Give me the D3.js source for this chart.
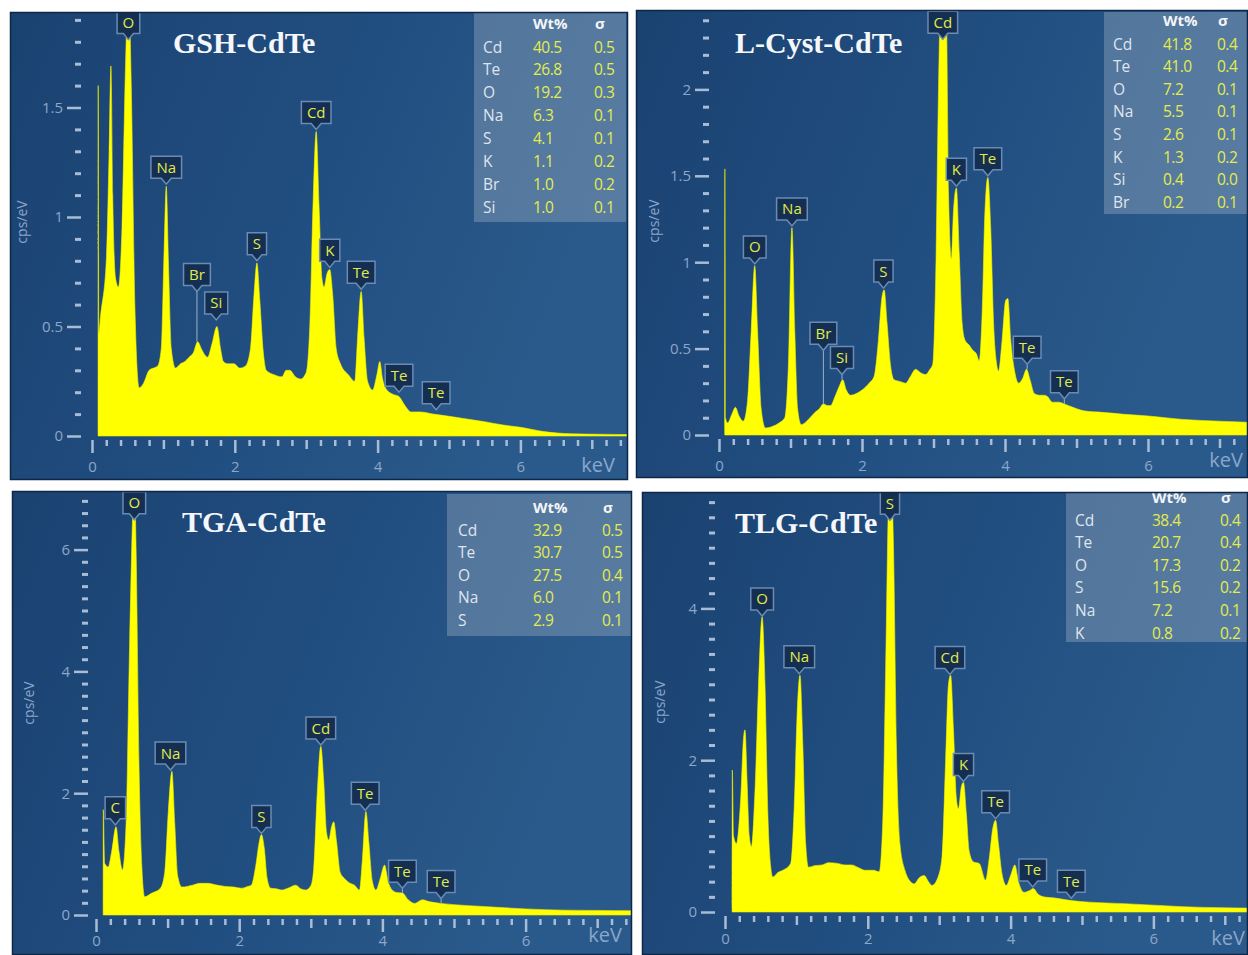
<!DOCTYPE html>
<html><head><meta charset="utf-8">
<script src="https://cdn.jsdelivr.net/npm/d3@7"></script>
<style>body{margin:0;background:#fff;} svg{display:block}</style>
</head><body>
<svg id="c" width="1248" height="955"></svg>
<script>
// ---------------- DATA ----------------
// spectra: [keV, cps/eV]
const gshSpectrum = [[0.085,0],[0.087,1.60],[0.095,0.47],[0.12,0.55],[0.20,0.80],[0.24,1.30],[0.265,1.69],[0.29,1.10],[0.33,0.72],[0.37,0.68],[0.42,0.95],[0.47,1.70],[0.51,2.05],[0.55,1.60],[0.60,0.60],[0.66,0.22],[0.72,0.24],[0.80,0.30],[0.86,0.31],[0.92,0.32],[0.97,0.40],[1.01,0.85],[1.04,1.14],[1.07,0.80],[1.11,0.40],[1.17,0.31],[1.24,0.33],[1.30,0.34],[1.36,0.36],[1.42,0.38],[1.48,0.43],[1.53,0.40],[1.58,0.37],[1.62,0.36],[1.68,0.42],[1.75,0.50],[1.80,0.40],[1.84,0.34],[1.90,0.33],[1.99,0.33],[2.07,0.31],[2.15,0.32],[2.22,0.40],[2.27,0.65],[2.31,0.79],[2.35,0.62],[2.40,0.38],[2.44,0.30],[2.55,0.28],[2.66,0.27],[2.72,0.30],[2.77,0.30],[2.85,0.27],[2.92,0.26],[3.00,0.29],[3.05,0.50],[3.10,1.10],[3.14,1.39],[3.18,1.05],[3.22,0.72],[3.25,0.68],[3.29,0.74],[3.33,0.76],[3.37,0.65],[3.42,0.40],[3.48,0.33],[3.59,0.28],[3.68,0.25],[3.72,0.45],[3.77,0.66],[3.81,0.45],[3.86,0.25],[3.93,0.21],[3.99,0.28],[4.03,0.34],[4.07,0.26],[4.13,0.21],[4.22,0.19],[4.30,0.18],[4.38,0.14],[4.47,0.11],[4.60,0.11],[4.78,0.10],[5.0,0.09],[5.2,0.08],[5.5,0.065],[5.76,0.05],[6.0,0.04],[6.33,0.02],[6.72,0.01],[7.1,0.008],[7.6,0.006]];
const lcystSpectrum = [[0.08,0],[0.082,1.54],[0.09,0.10],[0.12,0.07],[0.18,0.12],[0.23,0.16],[0.28,0.11],[0.34,0.08],[0.40,0.20],[0.45,0.60],[0.50,0.98],[0.54,0.60],[0.59,0.15],[0.65,0.04],[0.75,0.05],[0.84,0.07],[0.92,0.10],[0.97,0.40],[1.02,1.20],[1.06,0.60],[1.10,0.15],[1.15,0.06],[1.25,0.09],[1.34,0.13],[1.40,0.15],[1.46,0.18],[1.52,0.17],[1.56,0.17],[1.62,0.22],[1.68,0.28],[1.73,0.32],[1.78,0.26],[1.84,0.23],[1.92,0.24],[2.0,0.26],[2.10,0.30],[2.17,0.34],[2.23,0.55],[2.28,0.80],[2.31,0.84],[2.35,0.65],[2.40,0.40],[2.45,0.32],[2.53,0.31],[2.61,0.30],[2.68,0.34],[2.75,0.38],[2.82,0.36],[2.89,0.35],[2.95,0.38],[2.99,0.41],[3.03,0.90],[3.07,2.00],[3.10,2.55],[3.14,2.65],[3.18,2.45],[3.21,1.40],[3.25,1.02],[3.28,1.30],[3.32,1.43],[3.36,1.05],[3.40,0.65],[3.44,0.55],[3.50,0.52],[3.55,0.49],[3.60,0.47],[3.64,0.43],[3.68,0.70],[3.72,1.30],[3.76,1.49],[3.80,1.20],[3.84,0.65],[3.88,0.42],[3.91,0.37],[3.96,0.55],[4.01,0.78],[4.04,0.79],[4.08,0.55],[4.13,0.38],[4.19,0.30],[4.25,0.33],[4.30,0.38],[4.35,0.32],[4.41,0.24],[4.48,0.23],[4.55,0.23],[4.60,0.22],[4.66,0.19],[4.75,0.19],[4.83,0.18],[4.95,0.16],[5.10,0.14],[5.4,0.13],[5.66,0.12],[6.0,0.11],[6.49,0.09],[7.0,0.08],[7.6,0.07]];
const tgaSpectrum = [[0.10,0],[0.102,1.73],[0.12,0.85],[0.17,0.79],[0.22,1.05],[0.28,1.45],[0.32,1.05],[0.37,0.74],[0.42,1.5],[0.47,4.5],[0.51,6.5],[0.535,7.2],[0.56,6.0],[0.60,2.5],[0.64,0.8],[0.68,0.30],[0.78,0.36],[0.90,0.44],[0.96,0.70],[1.01,1.70],[1.06,2.36],[1.10,1.50],[1.14,0.65],[1.20,0.46],[1.35,0.49],[1.45,0.52],[1.57,0.52],[1.65,0.50],[1.80,0.47],[1.92,0.46],[2.03,0.44],[2.12,0.47],[2.17,0.49],[2.23,0.80],[2.28,1.20],[2.31,1.32],[2.35,1.10],[2.39,0.60],[2.44,0.44],[2.52,0.43],[2.59,0.41],[2.68,0.44],[2.79,0.49],[2.86,0.43],[2.93,0.41],[3.00,0.48],[3.04,0.75],[3.09,2.0],[3.14,2.77],[3.18,2.2],[3.22,1.35],[3.25,1.23],[3.29,1.45],[3.32,1.53],[3.36,1.20],[3.41,0.70],[3.47,0.60],[3.55,0.52],[3.61,0.49],[3.68,0.41],[3.72,0.90],[3.77,1.70],[3.81,1.20],[3.86,0.55],[3.91,0.41],[3.97,0.60],[4.03,0.82],[4.08,0.55],[4.13,0.42],[4.20,0.37],[4.28,0.36],[4.36,0.25],[4.45,0.19],[4.56,0.25],[4.65,0.22],[4.82,0.19],[5.0,0.17],[5.41,0.14],[6.0,0.10],[6.53,0.08],[7.0,0.075],[7.6,0.07]];
const tlgSpectrum = [[0.10,0],[0.102,1.87],[0.12,1.0],[0.16,0.90],[0.22,1.50],[0.26,2.30],[0.28,2.40],[0.31,1.70],[0.34,1.00],[0.37,0.86],[0.42,1.60],[0.47,3.00],[0.52,3.89],[0.56,3.00],[0.60,1.30],[0.64,0.60],[0.67,0.46],[0.74,0.52],[0.81,0.55],[0.92,0.64],[0.97,1.40],[1.01,2.60],[1.05,3.12],[1.09,2.20],[1.13,0.90],[1.17,0.59],[1.25,0.61],[1.36,0.62],[1.45,0.65],[1.58,0.64],[1.68,0.62],[1.77,0.62],[1.88,0.58],[1.96,0.55],[2.08,0.55],[2.16,0.53],[2.21,1.2],[2.25,3.2],[2.29,5.4],[2.32,5.8],[2.36,4.8],[2.40,2.2],[2.45,0.9],[2.52,0.55],[2.58,0.42],[2.65,0.37],[2.72,0.45],[2.79,0.48],[2.85,0.40],[2.90,0.35],[2.98,0.45],[3.04,0.73],[3.09,2.0],[3.13,3.0],[3.16,3.12],[3.20,2.40],[3.24,1.50],[3.27,1.36],[3.31,1.65],[3.34,1.71],[3.38,1.30],[3.42,0.80],[3.48,0.66],[3.56,0.64],[3.65,0.42],[3.70,0.70],[3.75,1.10],[3.79,1.21],[3.83,0.90],[3.88,0.50],[3.94,0.35],[4.00,0.48],[4.06,0.62],[4.11,0.40],[4.19,0.26],[4.26,0.28],[4.32,0.31],[4.38,0.24],[4.46,0.20],[4.55,0.19],[4.65,0.18],[4.85,0.15],[5.1,0.13],[5.59,0.11],[6.0,0.09],[6.41,0.07],[7.0,0.055],[7.6,0.05]];

// peak labels: [element, keV, label tip value, spectrum value reached by leader line (or null)]
const gshPeakLabels = [["O",0.51,1.81,null],["Na",1.04,1.15,null],["Br",1.47,0.66,0.43],["Si",1.74,0.53,null],["S",2.31,0.80,null],["Cd",3.14,1.40,null],["K",3.33,0.77,null],["Te",3.77,0.67,null],["Te",4.30,0.20,null],["Te",4.82,0.12,null]];
const lcystPeakLabels = [["O",0.50,0.99,null],["Na",1.02,1.21,null],["Br",1.46,0.49,0.18],["Si",1.72,0.35,0.32],["S",2.30,0.85,null],["Cd",3.13,2.29,null],["K",3.32,1.44,null],["Te",3.76,1.50,null],["Te",4.31,0.41,0.38],["Te",4.83,0.21,0.18]];
const tgaPeakLabels = [["C",0.27,1.48,null],["O",0.535,6.49,null],["Na",1.04,2.38,null],["S",2.31,1.34,null],["Cd",3.14,2.79,null],["Te",3.76,1.72,null],["Te",4.28,0.44,0.36],["Te",4.82,0.27,0.19]];
const tlgPeakLabels = [["O",0.52,3.90,null],["Na",1.04,3.14,null],["S",2.31,5.16,null],["Cd",3.15,3.13,null],["K",3.34,1.72,null],["Te",3.79,1.23,null],["Te",4.31,0.33,null],["Te",4.85,0.18,null]];

// composition tables
const gshElements = ["Cd","Te","O","Na","S","K","Br","Si"];
const gshWt = ["40.5","26.8","19.2","6.3","4.1","1.1","1.0","1.0"];
const gshSigma = ["0.5","0.5","0.3","0.1","0.1","0.2","0.2","0.1"];
const lcystElements = ["Cd","Te","O","Na","S","K","Si","Br"];
const lcystWt = ["41.8","41.0","7.2","5.5","2.6","1.3","0.4","0.2"];
const lcystSigma = ["0.4","0.4","0.1","0.1","0.1","0.2","0.0","0.1"];
const tgaElements = ["Cd","Te","O","Na","S"];
const tgaWt = ["32.9","30.7","27.5","6.0","2.9"];
const tgaSigma = ["0.5","0.5","0.4","0.1","0.1"];
const tlgElements = ["Cd","Te","O","S","Na","K"];
const tlgWt = ["38.4","20.7","17.3","15.6","7.2","0.8"];
const tlgSigma = ["0.4","0.4","0.2","0.2","0.1","0.2"];

// axis ticks
const gshYTicks = [0,0.5,1,1.5];
const lcystYTicks = [0,0.5,1,1.5,2];
const tgaYTicks = [0,2,4,6];
const tlgYTicks = [0,2,4];
const xTickLabels = [0,2,4,6];
const titles = ["GSH-CdTe","L-Cyst-CdTe","TGA-CdTe","TLG-CdTe"];

// ---------------- LAYOUT ----------------
const panels = [
  {title:titles[0], spec:gshSpectrum, labels:gshPeakLabels, el:gshElements, wt:gshWt, sg:gshSigma, yTicks:gshYTicks, yMinor:0.1, yMinorMax:1.95,
   rect:[10,12,628,480], x0:92, kx:71.4, y0:436, ky:219, yAxisX:81, ylabX:22, ylabY:222, titleX:173, titleY:53,
   table:[474,13,626,222], tCols:[483,533,594], tHeadY:24, tRow0:47, tRowH:22.9, keV:[598,465], xPad:8},
  {title:titles[1], spec:lcystSpectrum, labels:lcystPeakLabels, el:lcystElements, wt:lcystWt, sg:lcystSigma, yTicks:lcystYTicks, yMinor:0.1, yMinorMax:2.45,
   rect:[636,10,1248,478], x0:719, kx:71.5, y0:435, ky:172.8, yAxisX:709, ylabX:654, ylabY:221, titleX:735, titleY:53,
   table:[1104,12,1248,214], tCols:[1113,1163,1217], tHeadY:21, tRow0:44, tRowH:22.6, keV:[1226,460], xPad:8},
  {title:titles[2], spec:tgaSpectrum, labels:tgaPeakLabels, el:tgaElements, wt:tgaWt, sg:tgaSigma, yTicks:tgaYTicks, yMinor:0.2, yMinorMax:6.9,
   rect:[12,491,632,955], x0:96, kx:71.6, y0:915, ky:60.9, yAxisX:88, ylabX:29, ylabY:703, titleX:182, titleY:532,
   table:[447,494,632,636], tCols:[458,533,602], tHeadY:508, tRow0:530, tRowH:22.5, keV:[605,935], xPad:3},
  {title:titles[3], spec:tlgSpectrum, labels:tlgPeakLabels, el:tlgElements, wt:tlgWt, sg:tlgSigma, yTicks:tlgYTicks, yMinor:0.2, yMinorMax:5.5,
   rect:[642,492,1248,955], x0:725, kx:71.4, y0:912, ky:75.9, yAxisX:715, ylabX:660, ylabY:702, titleX:735, titleY:533,
   table:[1066,493,1248,642], tCols:[1075,1152,1220], tHeadY:498, tRow0:520, tRowH:22.6, keV:[1228,938], xPad:4}
];

const svg = d3.select("#c");
const defs = svg.append("defs");
const bg = defs.append("linearGradient").attr("id","bg").attr("x1","0").attr("y1","0").attr("x2","1").attr("y2","0.3");
bg.append("stop").attr("offset","0").attr("stop-color","#1a4271");
bg.append("stop").attr("offset","0.55").attr("stop-color","#214e80");
bg.append("stop").attr("offset","1").attr("stop-color","#2a5a8b");

const AX = "#a8bcd6", AXT = "#8ba7ca";

panels.forEach((p,i)=>{
  const [rx0,ry0,rx1,ry1] = p.rect;
  const g = svg.append("g");
  const cid = "clip"+i;
  defs.append("clipPath").attr("id",cid).append("rect").attr("x",rx0).attr("y",ry0).attr("width",rx1-rx0).attr("height",ry1-ry0);
  const gc = g.append("g").attr("clip-path",`url(#${cid})`);
  gc.append("rect").attr("x",rx0).attr("y",ry0).attr("width",rx1-rx0).attr("height",ry1-ry0).attr("fill","url(#bg)");

  const x = d3.scaleLinear().domain([0,1]).range([p.x0, p.x0+p.kx]);
  const y = d3.scaleLinear().domain([0,1]).range([p.y0, p.y0-p.ky]);

  // table
  const [tx0,ty0,tx1,ty1] = p.table;
  gc.append("rect").attr("x",tx0).attr("y",ty0).attr("width",tx1-tx0).attr("height",ty1-ty0).attr("fill","rgba(170,182,200,0.36)");
  const tf = "'Open Sans', 'Noto Sans', sans-serif";
  gc.append("text").attr("x",p.tCols[1]).attr("y",p.tHeadY+5).text("Wt%").attr("font-family",tf).attr("font-size",15).attr("font-weight","bold").attr("fill","#f2f5f8");
  gc.append("text").attr("x",p.tCols[2]+1).attr("y",p.tHeadY+5).text("σ").attr("font-family",tf).attr("font-size",15).attr("font-weight","bold").attr("fill","#f2f5f8");
  p.el.forEach((e,k)=>{
    const yy = p.tRow0 + k*p.tRowH + 5.5;
    gc.append("text").attr("x",p.tCols[0]).attr("y",yy).text(e).attr("font-family",tf).attr("font-size",15.5).attr("fill","#dfe5ee");
    gc.append("text").attr("x",p.tCols[1]).attr("y",yy).text(p.wt[k]).attr("font-family",tf).attr("font-size",15.5).attr("fill","#e4ec4e").attr("letter-spacing","-0.5");
    gc.append("text").attr("x",p.tCols[2]).attr("y",yy).text(p.sg[k]).attr("font-family",tf).attr("font-size",15.5).attr("fill","#e4ec4e").attr("letter-spacing","-0.5");
  });

  // spectrum
  const area = d3.area().x(d=>x(d[0])).y0(p.y0).y1(d=>y(d[1])).curve(d3.curveMonotoneX);
  gc.append("path").datum(p.spec).attr("d",area).attr("fill","#ffff00").attr("stroke","#f2f200").attr("stroke-width",0.6);

  // y axis ticks
  const yMinorVals = d3.range(0, p.yMinorMax, p.yMinor).filter(v=>!p.yTicks.some(t=>Math.abs(t-v)<1e-6));
  const yMin = gc.append("g").attr("transform",`translate(${p.yAxisX},0)`)
    .call(d3.axisLeft(y).tickValues(yMinorVals).tickSize(6).tickFormat(""));
  yMin.select(".domain").remove();
  yMin.selectAll("line").attr("stroke",AX).attr("stroke-width",3);
  const yMaj = gc.append("g").attr("transform",`translate(${p.yAxisX},0)`)
    .call(d3.axisLeft(y).tickValues(p.yTicks).tickSize(14).tickPadding(4).tickFormat(d3.format("~g")));
  yMaj.select(".domain").remove();
  yMaj.selectAll("line").attr("stroke",AX).attr("stroke-width",2.5);
  yMaj.selectAll("text").attr("fill",AXT).attr("font-family",tf).attr("font-size",15);

  // x axis ticks
  const xmax = (rx1 - p.x0)/p.kx;
  const xMinorVals = d3.range(0.2, xmax, 0.2).filter(v=>Math.abs(v-Math.round(v))>1e-6);
  const xOddVals = d3.range(1, xmax, 2);
  const gx = () => gc.append("g").attr("transform",`translate(0,${p.y0+4})`);
  const a1 = gx().call(d3.axisBottom(x).tickValues(xMinorVals).tickSize(6).tickFormat(""));
  const a2 = gx().call(d3.axisBottom(x).tickValues(xOddVals).tickSize(9).tickFormat(""));
  const a3 = gx().call(d3.axisBottom(x).tickValues(xTickLabels).tickSize(13).tickPadding(p.xPad).tickFormat(d3.format("d")));
  [a1,a2,a3].forEach(a=>{a.select(".domain").remove(); a.selectAll("line").attr("stroke",AX).attr("stroke-width",2.5);});
  a3.selectAll("text").attr("fill",AXT).attr("font-family",tf).attr("font-size",15);
  gc.append("text").attr("x",p.keV[0]).attr("y",p.keV[1]+7).attr("text-anchor","middle").text("keV").attr("font-family",tf).attr("font-size",20).attr("fill",AXT);
  gc.append("text").attr("transform",`translate(${p.ylabX},${p.ylabY}) rotate(-90)`).attr("text-anchor","middle").attr("dy","0.35em").text("cps/eV").attr("font-family",tf).attr("font-size",14).attr("fill",AXT);

  // peak labels
  p.labels.forEach(([name,kev,tip,peak])=>{
    const cx = x(kev), ty = y(tip);
    if (peak !== null) gc.append("line").attr("x1",cx).attr("x2",cx).attr("y1",ty).attr("y2",y(peak)).attr("stroke","#9cb1c9").attr("stroke-width",1);
    const lg = gc.append("g");
    const t = lg.append("text").attr("x",cx).attr("y",ty-6-11+5.5).attr("text-anchor","middle").text(name)
      .attr("font-family",tf).attr("font-size",15).attr("fill","#e2ea4c");
    const w = t.node().getComputedTextLength() + 11;
    const h = 22, n = 6;
    lg.insert("path","text").attr("d",`M${cx-w/2},${ty-n-h} H${cx+w/2} V${ty-n} H${cx+5} L${cx},${ty} L${cx-5},${ty-n} H${cx-w/2} Z`)
      .attr("fill","#142f52").attr("stroke","#6a8bb3").attr("stroke-width",1.5);
  });

  // title
  gc.append("text").attr("x",p.titleX).attr("y",p.titleY).text(p.title)
    .attr("font-family","'Liberation Serif','Times New Roman',serif").attr("font-weight","bold").attr("font-size",30).attr("fill","#f5f7fa");

  g.append("rect").attr("x",rx0+0.5).attr("y",ry0+0.5).attr("width",rx1-rx0-1).attr("height",ry1-ry0-1).attr("fill","none").attr("stroke","#0f2746").attr("stroke-width",1.5);
});
</script>
</body></html>
